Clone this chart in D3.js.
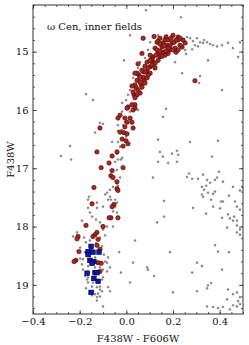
<!DOCTYPE html>
<html>
<head>
<meta charset="utf-8">
<script src="https://cdn.jsdelivr.net/npm/d3@7"></script>
<style>
  body { margin: 0; background: #fff; }
  text { font-family: "DejaVu Serif", serif; }
</style>
</head>
<body>
<div id="cmd"></div>
<script>
// [F438W - F606W, F438W]
var grayStars = [
  [0.084,14.29],[0.234,14.41],[0.016,14.72],[-0.010,15.15],[-0.173,15.73],[-0.143,15.83],
  [0.170,15.98],[0.157,16.12],[0.410,15.66],[0.350,15.15],[0.316,15.42],[0.312,15.54],
  [0.239,15.37],[0.209,15.18],
  [0.260,14.75],[0.273,14.77],[0.303,14.77],[0.316,14.84],[0.346,14.84],[0.372,14.89],
  [0.410,14.89],[0.436,14.85],[0.457,14.94],[0.487,14.84],[0.479,15.09],[0.294,14.89],
  [0.307,14.91],[0.329,14.85],[0.389,14.91],[0.252,14.97],[0.174,14.72],[0.149,14.77],
  [0.136,14.72],[0.286,14.82],[0.333,14.80],[0.359,14.87],[0.282,14.96],[0.256,15.04],
  [0.102,14.84],[0.093,14.97],[0.080,15.11],[0.059,15.18],[0.050,15.28],[0.029,15.45],
  [0.016,15.66],[0.007,15.74],[-0.001,15.83],[-0.018,15.88],[0.050,16.00],[0.016,16.03],
  [-0.018,16.03],[-0.036,16.26],[-0.018,16.34],[-0.036,16.36],[-0.061,16.55],[-0.036,16.55],
  [-0.006,16.21],[-0.014,16.26],[-0.001,16.46],[-0.027,16.63],[-0.040,16.75],[-0.018,16.82],
  [-0.023,16.85],[-0.036,16.85],[-0.048,16.89],[-0.040,17.03],[-0.027,17.16],[-0.044,17.23],
  [-0.040,17.26],[-0.036,17.30],[-0.057,17.32],[-0.070,17.37],[-0.083,17.42],[-0.091,17.45],
  [-0.160,17.49],[-0.164,17.54],[-0.126,17.59],[-0.126,17.68],[-0.164,17.68],[-0.100,17.66],
  [-0.078,17.54],[-0.066,17.54],[-0.070,17.49],[-0.048,17.54],[-0.048,17.66],[-0.040,17.59],
  [-0.057,17.74],[-0.040,17.76],[-0.156,17.76],[-0.147,17.83],[-0.130,17.88],[-0.113,17.93],
  [-0.083,18.00],[-0.057,18.00],[-0.100,18.05],[-0.190,17.90],[-0.211,18.10],[-0.228,18.17],
  [-0.113,18.19],[-0.091,18.15],[-0.280,16.79],[-0.241,16.62],[-0.237,16.85],[-0.134,16.39],
  [-0.113,16.22],[-0.100,16.24],
  [-0.198,18.36],[-0.177,18.44],[-0.156,18.51],[-0.134,18.53],[-0.186,18.56],[-0.198,18.55],
  [-0.190,18.65],[-0.164,18.68],[-0.134,18.70],[-0.113,18.70],[-0.100,18.74],[-0.083,18.77],
  [-0.186,18.74],[-0.177,18.85],[-0.164,18.87],[-0.143,18.96],[-0.113,19.03],[-0.126,19.04],
  [-0.113,19.08],[-0.104,19.11],[-0.134,19.16],[-0.126,19.21],[-0.113,19.20],[-0.100,19.37],
  [-0.126,19.27],[-0.070,19.11],[-0.078,19.04],[-0.147,19.03],[-0.164,18.96],[-0.168,18.91],
  [-0.100,18.87],[-0.104,18.91],[-0.083,18.62],[-0.078,18.53],[-0.096,18.48],[-0.147,18.39],
  [-0.130,18.29],[-0.173,18.27],[-0.156,18.24],[-0.181,18.19],[-0.104,18.34],[-0.091,18.60],
  [-0.070,18.70],[-0.173,19.06],[-0.143,19.11],[-0.121,19.15],[-0.147,19.18],
  [0.136,16.51],[0.273,16.55],[0.393,16.53],[0.144,16.72],[0.157,16.80],[0.196,16.75],
  [0.217,16.70],[0.222,16.77],[0.179,16.91],[0.136,16.89],[0.217,16.89],[0.367,16.80],
  [0.114,17.16],[0.260,17.15],[0.269,17.09],[0.282,17.18],[0.307,17.18],[0.329,17.11],
  [0.346,17.20],[0.359,17.25],[0.380,17.20],[0.389,17.16],[0.397,17.06],[0.414,17.23],
  [0.324,17.32],[0.333,17.37],[0.342,17.30],[0.324,17.45],[0.329,17.49],[0.350,17.42],
  [0.363,17.54],[0.380,17.40],[0.372,17.44],[0.406,17.57],[0.440,17.47],[0.457,17.32],
  [0.487,17.38],[0.496,17.32],[0.372,17.66],[0.402,17.69],[0.414,17.57],[0.466,17.57],
  [0.474,17.66],[0.487,17.71],[0.436,17.79],[0.444,17.86],[0.457,17.90],[0.474,17.90],
  [0.462,17.83],[0.432,18.02],[0.474,17.98],[0.487,18.05],[0.342,17.78],[0.286,17.68],
  [0.162,17.56],[0.162,17.83],[0.132,17.93],[0.410,17.85],
  [0.037,18.24],[-0.031,18.44],[0.029,18.62],[-0.023,18.79],[0.016,18.96],[0.089,18.70],
  [0.093,18.74],[0.119,18.85],[0.187,18.44],[0.200,19.13],[0.282,18.79],[0.303,18.62],
  [0.324,18.68],[0.303,19.11],[0.350,19.01],[0.363,18.97],[0.346,19.06],[0.380,18.32],
  [0.393,18.43],[0.440,18.44],[0.410,18.74],[0.436,19.08],[0.432,19.25],[0.457,19.16],
  [0.474,19.13],[0.487,19.21],[0.479,19.28],[0.474,19.37],[0.457,19.35],[0.346,19.37],
  [0.372,19.38],[0.393,19.40],[0.414,19.38],[0.444,19.42],[0.487,19.33],[0.474,18.10],
  [0.487,18.14]
];

var redStars = [
  [0.072,14.77],[0.119,14.74],[0.132,14.84],[0.200,14.72],[0.222,14.75],[0.170,14.75],
  [0.157,14.85],[0.136,14.82],[0.166,14.80],[0.222,14.80],[0.196,14.85],[0.174,14.89],
  [0.153,14.92],[0.123,14.94],[0.209,14.94],[0.187,14.97],[0.239,14.92],[0.252,14.85],
  [0.230,14.89],[0.213,15.01],[0.179,15.03],[0.157,15.01],[0.136,15.03],[0.114,15.09],
  [0.144,15.09],[0.166,15.06],[0.187,14.90],[0.205,14.84],[0.144,14.87],[0.067,15.03],
  [0.144,14.77],[0.179,14.80],[0.213,14.80],[0.230,14.77],[0.243,14.80],[0.191,14.77],
  [0.162,14.90],[0.179,14.94],[0.200,14.97],[0.222,14.97],[0.132,14.97],[0.144,14.99],
  [0.170,14.99],[0.127,15.06],[0.153,15.08],[0.102,15.06],[0.110,15.13],[0.089,15.18],
  [0.114,15.18],[0.080,15.25],[0.102,15.26],[0.072,15.34],[0.089,15.34],[0.054,15.40],
  [0.076,15.49],[0.046,15.49],[0.063,15.57],[0.042,15.62],[0.033,15.74],
  [0.102,15.15],[0.123,15.20],[0.110,15.23],[0.093,15.28],[0.123,15.28],[0.136,15.15],
  [0.080,15.35],[0.102,15.37],[0.072,15.44],[0.046,15.37],[0.089,15.45],[0.059,15.52],
  [0.037,15.57],[0.080,15.54],[0.067,15.61],[0.050,15.66],[0.029,15.69],[0.059,15.71],
  [0.046,15.74],[0.050,15.21],[0.037,15.37],[0.024,15.59],[0.294,15.50],[0.067,15.32],
  [0.093,15.40],[0.059,15.44],
  [0.037,15.79],[0.037,15.91],[0.024,15.91],[0.007,15.95],[0.037,15.97],[0.003,15.97],
  [0.029,16.00],[-0.027,16.09],[-0.036,16.14],[-0.006,16.14],[0.016,16.14],[0.024,16.21],
  [0.003,16.21],[-0.113,16.31],[-0.006,16.29],[0.029,16.31],[-0.027,16.38],[-0.010,16.39],
  [0.003,16.41],[-0.018,16.50],[-0.001,16.53],[0.007,16.58],[-0.014,16.62],[-0.126,16.72],
  [-0.040,16.72],[-0.061,16.79],[-0.074,16.91],[-0.108,16.99],[-0.014,16.99],[-0.061,17.04],
  [-0.066,17.13],[-0.057,17.16],[-0.040,17.23],[-0.139,17.33],[-0.040,17.35],[-0.036,17.38],
  [-0.147,17.61],[-0.053,17.62],[-0.061,17.66],[-0.066,17.85],[-0.074,17.85],[-0.036,17.85],
  [-0.173,17.98],[-0.100,18.00],[-0.126,18.10],[-0.134,18.14],[-0.143,18.17],[-0.207,18.17],
  [-0.211,18.21],[-0.121,18.22],[-0.126,18.32],[-0.203,18.43],[-0.113,18.39],[-0.216,18.58],
  [-0.224,18.60],[-0.121,18.62],[-0.108,18.63],[-0.113,18.77]
];

var blueStars = [
  [-0.151,18.34],[-0.164,18.43],[-0.143,18.44],[-0.164,18.48],[-0.117,18.44],[-0.156,18.58],
  [-0.139,18.60],[-0.147,18.63],[-0.168,18.80],[-0.134,18.79],[-0.126,18.79],[-0.139,18.89],
  [-0.121,18.94],[-0.151,19.13]
];

var xTicks = [-0.4, -0.2, 0.0, 0.2, 0.4];
var yTicks = [15, 16, 17, 18, 19];
var xMinor = d3.range(-0.4, 0.5001, 0.05);
var yMinor = d3.range(14.2, 19.5001, 0.2);

var margin = {top: 5, right: 6, bottom: 31, left: 33},
    width = 249 - margin.left - margin.right,
    height = 345 - margin.top - margin.bottom;

var svg = d3.select("#cmd")
  .append("svg")
    .attr("width", 249)
    .attr("height", 345)
  .append("g")
    .attr("transform", "translate(" + margin.left + "," + margin.top + ")");

var x = d3.scaleLinear().domain([-0.4, 0.5]).range([0, width]);
var y = d3.scaleLinear().domain([14.2, 19.5]).range([0, height]);

// stars
svg.append("g")
  .selectAll("circle")
  .data(grayStars)
  .enter().append("circle")
    .attr("cx", function(d) { return x(d[0]); })
    .attr("cy", function(d) { return y(d[1]); })
    .attr("r", 1.1)
    .style("fill", "#8c8c8c")
    .style("stroke", "#6a6a6a")
    .style("stroke-width", 0.3);

svg.append("g")
  .selectAll("circle")
  .data(redStars)
  .enter().append("circle")
    .attr("cx", function(d) { return x(d[0]); })
    .attr("cy", function(d) { return y(d[1]); })
    .attr("r", 2.2)
    .style("fill", "#b8241d")
    .style("stroke", "#2a0a08")
    .style("stroke-width", 0.6);

svg.append("g")
  .selectAll("rect")
  .data(blueStars)
  .enter().append("rect")
    .attr("x", function(d) { return x(d[0]) - 2.3; })
    .attr("y", function(d) { return y(d[1]) - 2.3; })
    .attr("width", 4.6)
    .attr("height", 4.6)
    .style("fill", "#0a14c8")
    .style("stroke", "#000")
    .style("stroke-width", 0.6);

// axes, ticks pointing in on all four sides
function styleAxis(g) {
  g.select(".domain").remove();
  g.selectAll(".tick line").attr("stroke", "#333").attr("stroke-width", 0.8);
  g.selectAll("text").style("font-family", "DejaVu Serif").style("font-size", "10px").attr("fill", "#111");
}

svg.append("g").attr("transform", "translate(0," + height + ")")
  .call(d3.axisBottom(x).tickValues(xTicks).tickFormat(d3.format(".1f")).tickSize(-4).tickPadding(3.5))
  .call(styleAxis);
svg.append("g").attr("transform", "translate(0," + height + ")")
  .call(d3.axisBottom(x).tickValues(xMinor).tickFormat("").tickSize(-2))
  .call(styleAxis);
svg.append("g")
  .call(d3.axisTop(x).tickValues(xTicks).tickFormat("").tickSize(-4))
  .call(styleAxis);
svg.append("g")
  .call(d3.axisTop(x).tickValues(xMinor).tickFormat("").tickSize(-2))
  .call(styleAxis);

svg.append("g")
  .call(d3.axisLeft(y).tickValues(yTicks).tickFormat(d3.format("d")).tickSize(-4).tickPadding(4.5))
  .call(styleAxis);
svg.append("g")
  .call(d3.axisLeft(y).tickValues(yMinor).tickFormat("").tickSize(-2))
  .call(styleAxis);
svg.append("g").attr("transform", "translate(" + width + ",0)")
  .call(d3.axisRight(y).tickValues(yTicks).tickFormat("").tickSize(-4))
  .call(styleAxis);
svg.append("g").attr("transform", "translate(" + width + ",0)")
  .call(d3.axisRight(y).tickValues(yMinor).tickFormat("").tickSize(-2))
  .call(styleAxis);

svg.append("rect")
  .attr("width", width)
  .attr("height", height)
  .style("fill", "none")
  .style("stroke", "#333")
  .style("stroke-width", 1);

// labels
svg.append("text")
  .attr("x", 14)
  .attr("y", 25)
  .attr("font-size", "10px")
  .attr("fill", "#111")
  .text("ω Cen, inner fields");

svg.append("text")
  .attr("text-anchor", "middle")
  .attr("x", width / 2)
  .attr("y", height + 27.5)
  .attr("font-size", "10px")
  .attr("fill", "#111")
  .text("F438W - F606W");

svg.append("text")
  .attr("text-anchor", "middle")
  .attr("transform", "rotate(-90)")
  .attr("x", -height / 2)
  .attr("y", -19)
  .attr("font-size", "10px")
  .attr("fill", "#111")
  .text("F438W");
</script>
</body>
</html>
